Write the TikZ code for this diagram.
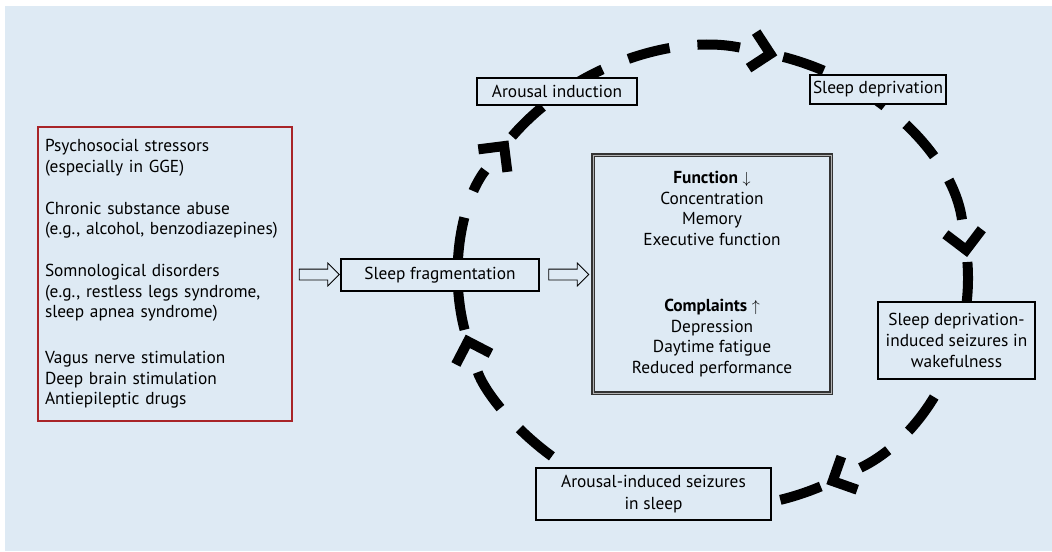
\documentclass[tikz,border=0pt]{standalone}
\usepackage{amsmath}
\usepackage{fontspec}
\setmainfont{PT Sans}
\usepackage{tikz}
\usetikzlibrary{shapes.arrows}
\usetikzlibrary{calc}
\definecolor{panelblue}{RGB}{222,234,244}
\definecolor{boxred}{RGB}{168,36,40}

\begin{document}
\begin{tikzpicture}[x=0.75pt, y=-0.75pt,
  font=\fontsize{13}{15.5}\selectfont,
  box/.style={draw, line width=1pt, fill=panelblue, align=center, inner sep=0pt},
  loop/.style={line width=7.5pt, dash pattern=on 32pt off 21pt, shorten >=23pt},
  chevron/.style={line width=7.5pt, miter limit=4},
  hollow/.style={single arrow, draw, fill=panelblue, line width=0.6pt,
    minimum height=30pt, inner sep=3.75pt, single arrow head extend=4.5pt}]

 \useasboundingbox (0,0) rectangle (1052,551);
 \fill[white] (0,0) rectangle (1052,551);
 \fill[panelblue] (5,6) rectangle (1052,551);

 % the vicious circle
 \coordinate (loop_c) at (713,278);

 \draw [loop] (loop_c) ++(65:255 and 230) arc [start angle=65, end angle=164, x radius=255, y radius=230];
 \draw [loop] (loop_c) ++(167:255 and 230) arc [start angle=167, end angle=215, x radius=255, y radius=230];
 \draw [loop] (loop_c) ++(218:255 and 230) arc [start angle=218, end angle=283, x radius=255, y radius=230];
 \draw [loop] (loop_c) ++(286:255 and 230) arc [start angle=286, end angle=353, x radius=255, y radius=230];
 \draw [loop] (loop_c) ++(356:255 and 230) arc [start angle=356, end angle=422, x radius=255, y radius=230];

 % heads
 \draw [chevron] (loop_c) ++(164:255 and 230) ++(27.4:26) -- ++(-152.6:26) -- ++(117.4:26);
 \draw [chevron] (loop_c) ++(215:255 and 230) ++(82.8:26) -- ++(-97.2:26) -- ++(172.8:26);
 \draw [chevron] (loop_c) ++(283:255 and 230) ++(146.8:26) -- ++(-33.2:26) -- ++(-123.2:26);
 \draw [chevron] (loop_c) ++(353:255 and 230) ++(217.2:26) -- ++(37.2:26) -- ++(-52.8:26);
 \draw [chevron] (loop_c) ++(62:255 and 230) ++(289.4:26) -- ++(109.4:26) -- ++(19.4:26);


 \node [box, draw=boxred, align=left, text width=180pt, minimum height=220.5pt,
        inner sep=5.25pt] (stressors) at (165,274)
     {Psychosocial stressors\\
      (especially in GGE)\\[15.75pt]
      Chronic substance abuse\\
      (e.g., alcohol, benzodiazepines)\\[15.75pt]
      Somnological disorders\\
      (e.g., restless legs syndrome,\\
      sleep apnea syndrome)\\[18.75pt]
      Vagus nerve stimulation\\
      Deep brain stimulation\\
      Antiepileptic drugs};

 \node [box, minimum width=148.5pt, minimum height=24pt] (sleep_frag) at (440,275)
     {Sleep fragmentation};

 \node [box, double=gray!60, double distance=0.6pt, line width=1pt,
        draw=black!80, minimum width=178.5pt, minimum height=178.5pt] (effects) at (712,274)
     {\textbf{Function} $\downarrow$\\
      Concentration\\
      Memory\\
      Executive function\\[34pt]
      \textbf{Complaints} $\uparrow$\\
      Depression\\
      Daytime fatigue\\
      Reduced performance};

 \node [box, minimum width=120pt, minimum height=20.25pt] (arousal_ind) at (557,91.5)
     {Arousal induction};

 \node [box, minimum width=102pt, minimum height=21.75pt] (sleep_dep) at (878,89.5)
     {Sleep deprivation};

 \node [box, minimum width=117.75pt, minimum height=57.75pt] (sd_seizures) at (956.5,340.5)
     {Sleep deprivation-\\induced seizures in\\wakefulness};

 \node [box, minimum width=176.25pt, minimum height=39pt] (ar_seizures) at (653.5,494)
     {Arousal-induced seizures\\[1.5pt]in sleep};


 \node [hollow] (arrow_in) at ($(stressors.east)!0.5!(sleep_frag.west)$) {};
 \node [hollow] (arrow_out) at ($(sleep_frag.east)!0.5!(effects.west)$) {};


\end{tikzpicture}
\end{document}
